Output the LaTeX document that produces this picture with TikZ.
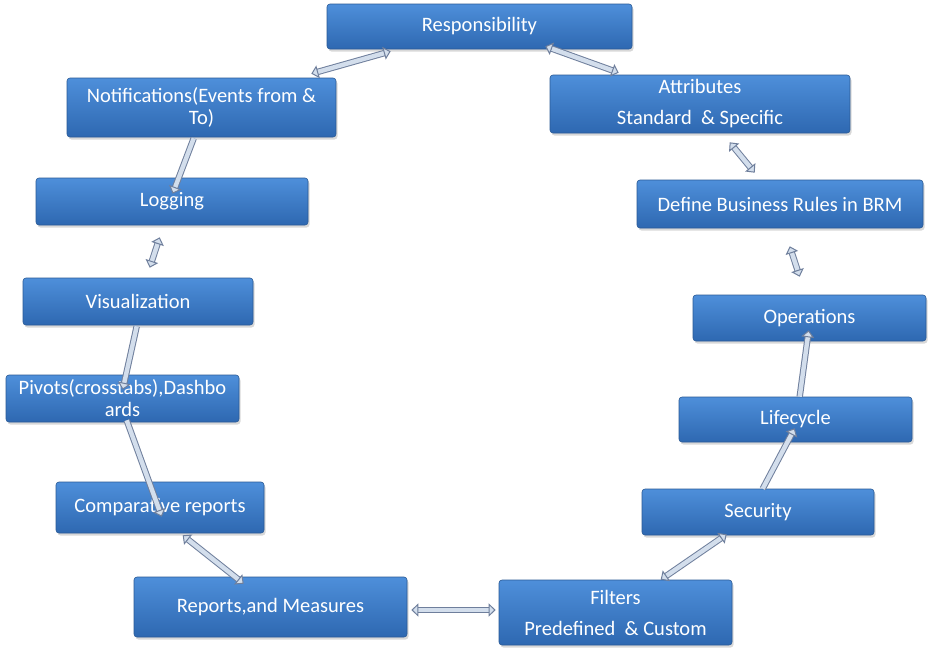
\documentclass[tikz,border=0pt]{standalone}
\usepackage{fontspec}
\setmainfont{Carlito}
\usepackage{xcolor}
\usepackage{tikz}
\usetikzlibrary{arrows.meta, positioning, calc, shadows}

\definecolor{boxtop}{HTML}{4E8FDA}
\definecolor{boxbot}{HTML}{2E68B1}
\definecolor{boxline}{HTML}{2A5A96}
\definecolor{linkedge}{HTML}{6F7F9C}
\definecolor{linkfill}{HTML}{D3DEEC}

\begin{document}
\begin{tikzpicture}[
            x=1pt, y=-1pt,
            stage/.style={rectangle, rounded corners=3pt, draw=boxline, line width=0.6pt,
                top color=boxtop, bottom color=boxbot, text=white, align=center,
                font=\fontsize{20.5}{22}\selectfont, inner sep=1pt,
                drop shadow={opacity=0.3, shadow xshift=1.5pt, shadow yshift=-2.5pt}},
            link/.style={draw=linkedge, line width=1pt, double=linkfill, double distance=4.4pt},
            twoway/.style={link, {Triangle[width=13pt, length=7pt, fill=linkfill]}-{Triangle[width=13pt, length=7pt, fill=linkfill]}},
            oneway/.style={link, -{Triangle[width=13pt, length=7pt, fill=linkfill]}}
        ]

        \fill[white] (0,0) rectangle (936,657);
        \useasboundingbox (0,0) rectangle (936,657);

        % Nodes (manual layout to match figure)
        \node[stage, minimum width=305pt, minimum height=45pt] (resp) at (479.5, 26.5) {Responsibility};
        \node[stage, minimum width=269pt, minimum height=59pt] (notif) at (201.5, 107.5) {Notifications(Events from \&\\To)};
        \node[stage, minimum width=300pt, minimum height=58pt] (attr) at (700, 104) {Attributes\\[9pt]Standard~~\& Specific};
        \node[stage, minimum width=272pt, minimum height=47pt] (log) at (172, 201.5) {Logging};
        \node[stage, minimum width=286pt, minimum height=48pt] (brm) at (780, 204) {Define Business Rules in BRM};
        \node[stage, minimum width=230pt, minimum height=47pt] (vis) at (138, 301.5) {Visualization};
        \node[stage, minimum width=233pt, minimum height=46pt] (ops) at (809.5, 318) {Operations};
        \node[stage, minimum width=233pt, minimum height=47pt] (piv) at (122.5, 398.5) {Pivots(crosstabs),Dashbo\\ards};
        \node[stage, minimum width=233pt, minimum height=45pt] (life) at (795.5, 419.5) {Lifecycle};
        \node[stage, minimum width=208pt, minimum height=51pt] (comp) at (160, 507.5) {Comparative reports};
        \node[stage, minimum width=232pt, minimum height=46pt] (sec) at (758, 512) {Security};
        \node[stage, minimum width=273pt, minimum height=60pt] (rep) at (270.5, 607) {Reports,and Measures};
        \node[stage, minimum width=233pt, minimum height=65pt] (filt) at (615.5, 612.5) {Filters\\[9pt]Predefined~~\& Custom};

        % Edges

        \draw[twoway] ($(resp.south west)+(64,2)$) -- ($(notif.north east)+(-25,-4)$);
        \draw[twoway] ($(resp.south east)+(-87,-3)$) -- ($(attr.north west)+(69,-2)$);

        \draw[oneway] ($(notif.south west)+(127,1)$) -- ($(log.north west)+(137,16)$);
        \draw[twoway] ($(log.south west)+(124,12)$) -- ($(vis.north west)+(127,-10)$);
        \draw[oneway] ($(vis.south west)+(114,1)$) -- ($(piv.north west)+(117,15)$);
        \draw[oneway] ($(piv.south west)+(121,-2)$) -- ($(comp.north west)+(106,35)$);
        \draw[twoway] ($(comp.south west)+(127,2)$) -- ($(rep.north west)+(110,7)$);

        \draw[twoway] ($(rep.east)+(4,3)$) -- ($(filt.west)+(-3,-2.5)$);

        \draw[twoway] ($(filt.north west)+(162,0)$) -- ($(sec.south west)+(85,-1)$);
        \draw[oneway] ($(sec.north west)+(121,0)$) -- ($(life.south west)+(116,-14)$);
        \draw[oneway] ($(life.north west)+(121,0)$) -- ($(ops.south west)+(116,-11)$);
        \draw[twoway] ($(brm.south west)+(153,18)$) -- ($(ops.north west)+(107,-18)$);
        \draw[twoway] ($(attr.south west)+(180,9)$) -- ($(brm.north west)+(118,-7)$);

        \end{tikzpicture}
\end{document}
